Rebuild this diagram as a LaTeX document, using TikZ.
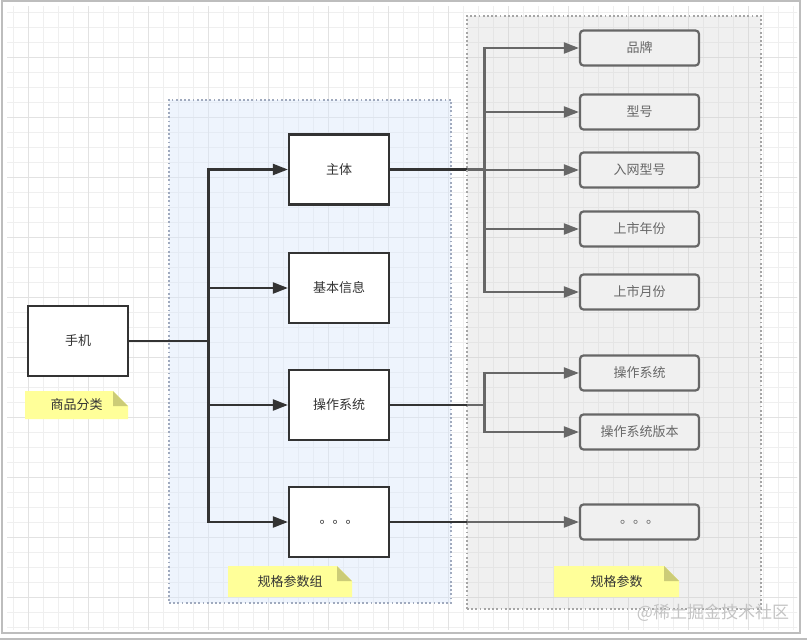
\documentclass[tikz,border=0pt]{standalone}
\usepackage{fontspec}
\setmainfont{Noto Sans CJK SC}
\usetikzlibrary{arrows.meta}
\definecolor{dark}{HTML}{333333}
\definecolor{gridminor}{HTML}{EFEFEF}
\definecolor{gridmajor}{HTML}{E2E2E2}
\definecolor{framecol}{HTML}{BDBDBD}
\definecolor{bluefill}{HTML}{DAE8FC}
\definecolor{grayfill}{HTML}{D2D2D2}
\definecolor{notefill}{HTML}{FFFF99}
\definecolor{notefold}{HTML}{CCCC77}
\definecolor{wm}{HTML}{C4C4C4}
\newcommand\mynote[6]{% x0,y0,x1,y1,name,text
  \fill[notefill] (#1,#2) -- ({#3-15},#2) -- (#3,{#2+15}) -- (#3,#4) -- (#1,#4) -- cycle;
  \fill[notefold] ({#3-15},#2) -- ({#3-15},{#2+15}) -- (#3,{#2+15}) -- cycle;
  \node[txt] (#5) at ({(#1+#3)/2},{(#2+#4)/2}) {#6};
}
\begin{document}
\begin{tikzpicture}[x=1pt,y=-1pt,
  txt/.style={inner sep=0pt, text=dark, font=\fontsize{13pt}{15pt}\selectfont},
  boxnode/.style={txt, draw=dark, line width=2.2pt, fill=white, minimum width=100pt, minimum height=70pt},
  specnode/.style={txt, draw=dark, line width=2.2pt, fill=white, rounded corners=3.5pt, minimum width=119pt, minimum height=35pt},
  conn/.style={draw=dark, line width=2.2pt},
  arr/.style={conn, -{Triangle[length=15pt,width=11pt]}},
  group/.style={inner sep=0pt, anchor=north west, line width=1.8pt, dash pattern=on 1.8pt off 2.4pt}
]
\useasboundingbox (0,0) rectangle (807,642);
\fill[white] (0,0) rectangle (807,642);
% grid
\begin{scope}
  \clip (7,7) rectangle (797,629);
  \foreach \i in {0,...,53} { \draw[gridminor, line width=0.7pt] ({13.3+15*\i},0) -- ({13.3+15*\i},642); }
  \foreach \i in {0,...,42} { \draw[gridminor, line width=0.7pt] (0,{12.3+15*\i}) -- (807,{12.3+15*\i}); }
  \foreach \i in {0,...,13} { \draw[gridmajor, line width=0.7pt] ({28.3+60*\i},0) -- ({28.3+60*\i},642); }
  \foreach \i in {0,...,10} { \draw[gridmajor, line width=0.7pt] (0,{-2.7+60*\i}) -- (807,{-2.7+60*\i}); }
\end{scope}
\draw[framecol, line width=1.2pt] (2,1) rectangle (800,633);
\draw[framecol, line width=1.2pt] (0,639) -- (807,639);

% blue group (behind)
\node[group, draw={rgb,255:red,160;green,170;blue,190}, fill=bluefill, fill opacity=0.45, draw opacity=1,
      minimum width=282pt, minimum height=503pt] (grpA) at (168,99) {};

% left nodes
\node[boxnode] (shouji) at (78,341) {手机};
\node[boxnode] (zhuti) at (339,169.5) {主体};
\node[boxnode] (jiben) at (339,288) {基本信息};
\node[boxnode] (caozuo) at (339,405) {操作系统};
\node[boxnode] (dotsA) at (339,522) {。。。};

% right nodes
\node[specnode] (pinpai) at (639.5,48) {品牌};
\node[specnode] (xinghao) at (639.5,112) {型号};
\node[specnode] (ruwang) at (639.5,170) {入网型号};
\node[specnode] (nianfen) at (639.5,229) {上市年份};
\node[specnode] (yuefen) at (639.5,292) {上市月份};
\node[specnode] (os) at (639.5,373) {操作系统};
\node[specnode] (osver) at (639.5,432) {操作系统版本};
\node[specnode] (dotsB) at (639.5,522) {。。。};

% notes
\mynote{25}{391}{128}{419}{noteA}{商品分类}
\mynote{228}{566}{352}{597}{noteB}{规格参数组}

% left connectors
\coordinate (bx) at (208.5,0);
\draw[conn] (shouji.east) -- (shouji.east -| bx);
\draw[arr] (shouji.east -| bx) |- (zhuti.west);
\draw[arr] (shouji.east -| bx) |- (jiben.west);
\draw[arr] (shouji.east -| bx) |- (caozuo.west);
\draw[arr] (shouji.east -| bx) |- (dotsA.west);

% right connectors
\coordinate (rx) at (484.5,0);
\draw[conn] (zhuti.east) -- (zhuti.east -| rx);
\foreach \t in {pinpai,xinghao,ruwang,nianfen,yuefen} {
  \draw[arr] (zhuti.east -| rx) |- (\t.west);
}
\draw[conn] (caozuo.east) -- (caozuo.east -| rx);
\draw[arr] (caozuo.east -| rx) |- (os.west);
\draw[arr] (caozuo.east -| rx) |- (osver.west);
\draw[arr] (dotsA.east) -- (dotsB.west);

% gray group (overlay)
\node[group, draw={rgb,255:red,165;green,165;blue,165}, fill=grayfill, fill opacity=0.33, draw opacity=1,
      minimum width=294pt, minimum height=593pt] (grpB) at (466,15) {};

\mynote{554}{566}{679}{597}{noteC}{规格参数}

% watermark
\node[inner sep=0pt, text=wm, font=\fontsize{17pt}{20pt}\selectfont] (wmark) at (713,613) {@稀土掘金技术社区};
\end{tikzpicture}
\end{document}
